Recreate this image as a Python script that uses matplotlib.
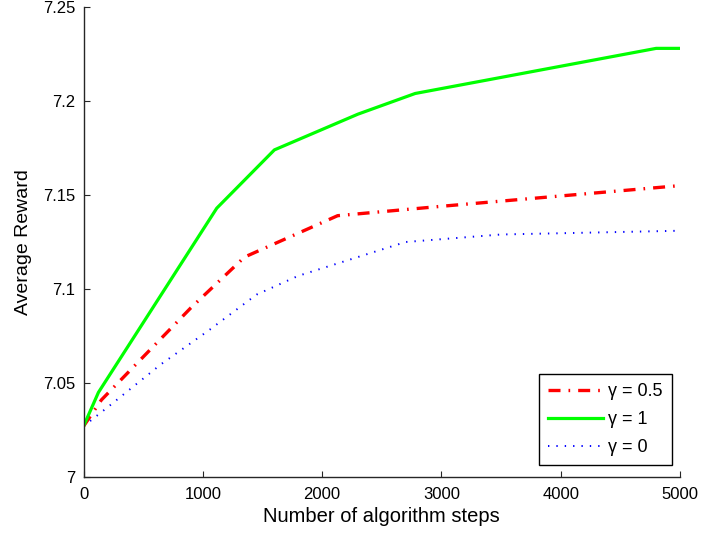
import matplotlib
matplotlib.use("Agg")
import matplotlib.pyplot as plt

plt.rcParams['font.family'] = ['Liberation Sans', 'DejaVu Sans']

# Data
steps_half = [0, 150, 900, 1350, 2130, 3000, 5000]
reward_half = [7.027, 7.041, 7.090, 7.117, 7.139, 7.144, 7.155]

steps_one = [0, 125, 1117, 1600, 2300, 2780, 4800, 5000]
reward_one = [7.027, 7.045, 7.143, 7.174, 7.193, 7.204, 7.228, 7.228]

steps_zero = [0, 200, 650, 1050, 1450, 1800, 2250, 2700, 3500, 5000]
reward_zero = [7.027, 7.037, 7.060, 7.078, 7.097, 7.107, 7.116, 7.125, 7.129, 7.131]

labels = ['γ = 0.5', 'γ = 1', 'γ = 0']
xticks = [0, 1000, 2000, 3000, 4000, 5000]
yticks = [7, 7.05, 7.1, 7.15, 7.2, 7.25]
ytick_labels = ['7', '7.05', '7.1', '7.15', '7.2', '7.25']

fig = plt.figure(figsize=(7.03, 5.35), dpi=100)
ax = fig.add_axes([0.1188, 0.1084, 0.9673 - 0.1188, 0.9869 - 0.1084])

ax.plot(steps_half, reward_half, color='#ff0000', lw=2.4,
        linestyle=(0, (3.6, 2.4, 0.5, 2.4)), label=labels[0])
ax.plot(steps_one, reward_one, color='#00ff00', lw=2.3, linestyle='-', label=labels[1])
ax.plot(steps_zero, reward_zero, color='#0000ff', lw=1.4,
        linestyle=(0, (0.7, 3.6)), label=labels[2])

ax.set_xlim(0, 5000)
ax.set_ylim(7, 7.25)
ax.set_xticks(xticks)
ax.set_xticklabels([str(t) for t in xticks])
ax.set_yticks(yticks)
ax.set_yticklabels(ytick_labels)

for s in ['top', 'right']:
    ax.spines[s].set_visible(False)
for s in ['left', 'bottom']:
    ax.spines[s].set_color('#262626')
    ax.spines[s].set_linewidth(1.0)

ax.tick_params(direction='in', length=4, width=0.8, colors='#262626',
               labelsize=12, labelcolor='black')
ax.tick_params(axis='x', pad=7)
ax.tick_params(axis='y', pad=6)

ax.set_xlabel('Number of algorithm steps', fontsize=14.5, labelpad=4)
ax.set_ylabel('Average Reward', fontsize=14, labelpad=8)

leg = ax.legend(loc='lower right', bbox_to_anchor=(0.9866, 0.0255),
                borderaxespad=0, fancybox=False, framealpha=1,
                edgecolor='black', fontsize=13, handlelength=3.0,
                handletextpad=0.33, labelspacing=0.6, borderpad=0.5)
leg.get_frame().set_linewidth(1.0)

fig.savefig('out.png', dpi=100)
